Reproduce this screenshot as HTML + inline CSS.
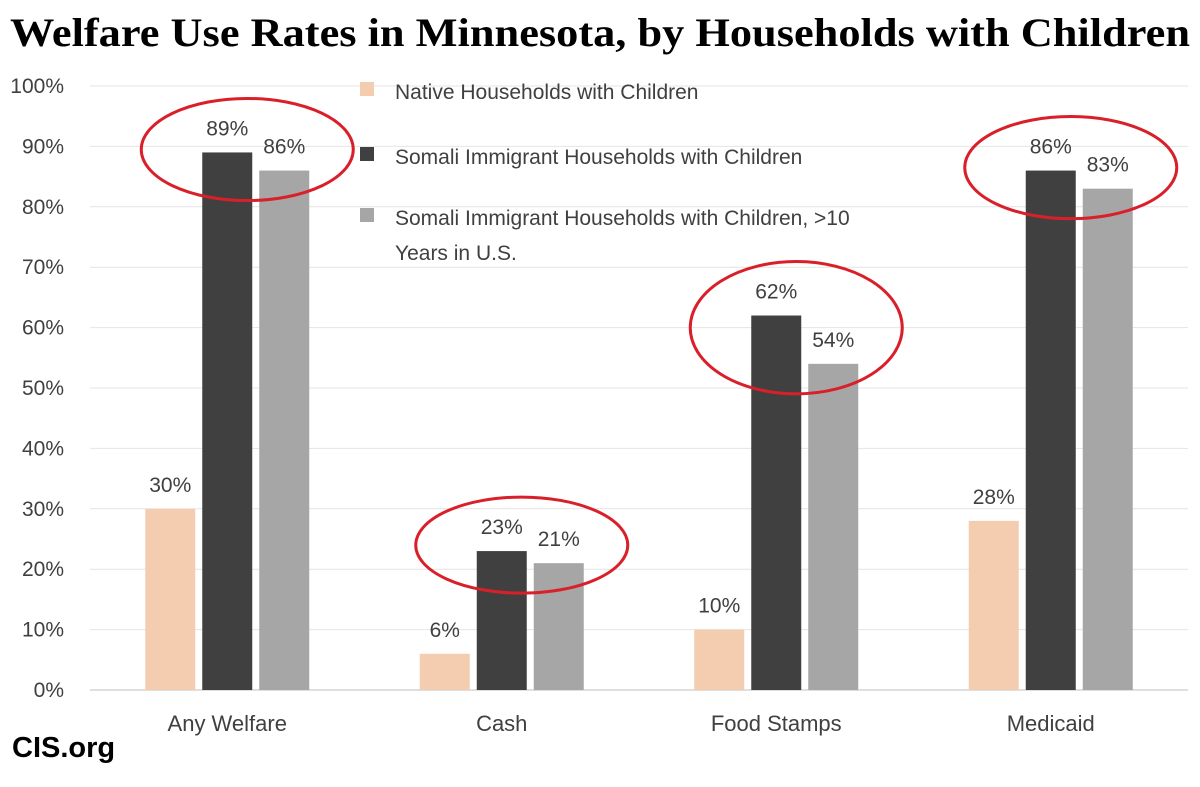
<!DOCTYPE html>
<html><head><meta charset="utf-8">
<style>
body{margin:0;background:#fff;width:1200px;height:782px;overflow:hidden;font-family:"Liberation Sans",sans-serif}
</style></head>
<body>
<svg id="chart" width="1200" height="782" xmlns="http://www.w3.org/2000/svg">
<text x="600" y="46" text-anchor="middle" font-family="Liberation Serif, serif" font-weight="bold" font-size="33" textLength="1180" lengthAdjust="spacingAndGlyphs" fill="#000" style="font-size:40px">Welfare Use Rates in Minnesota, by Households with Children</text>
<g id="grid"></g><g id="bars"></g><g id="labels"></g><g id="ann"></g>
<g font-size="21" fill="#404040">
<rect x="360" y="82" width="14" height="14" fill="#f4cdb0"/>
<text x="395" y="99" fill="#404040">Native Households with Children</text>
<rect x="360" y="147" width="14" height="14" fill="#404040"/>
<text x="395" y="164" fill="#404040">Somali Immigrant Households with Children</text>
<rect x="360" y="208" width="14" height="14" fill="#a6a6a6"/>
<text x="395" y="225" fill="#404040">Somali Immigrant Households with Children, &gt;10</text>
<text x="395" y="260" fill="#404040">Years in U.S.</text>
</g>
<text x="12" y="757" font-size="29" font-weight="bold" fill="#000">CIS.org</text>
</svg>
<script>
const categories=["Any Welfare","Cash","Food Stamps","Medicaid"];
const nativeVals=[30,6,10,28];
const somaliVals=[89,23,62,86];
const somali10Vals=[86,21,54,83];
const yTicks=[0,10,20,30,40,50,60,70,80,90,100];
const highlight=[true,true,true,true];
const NS="http://www.w3.org/2000/svg";
const x0=90,x1=1188,y0=690,y100=86;
const gw=(x1-x0)/categories.length;
const y=v=>y0-(y0-y100)*v/100;
const xc=i=>x0+gw*(i+0.5);
function mk(t,a,p){const e=document.createElementNS(NS,t);for(const k in a)e.setAttribute(k,a[k]);p.appendChild(e);return e;}
const grid=document.getElementById('grid'),bars=document.getElementById('bars'),labels=document.getElementById('labels'),ann=document.getElementById('ann');
yTicks.forEach(t=>{
 const l=mk('line',{x1:x0,x2:x1,y1:y(t),y2:y(t),stroke:t===0?'#bfbfbf':'#e4e4e4','stroke-width':1},grid);
 
 
 const tx=mk('text',{x:64,y:y(t)+7,'text-anchor':'end','font-size':21,fill:'#404040'},grid);
 tx.textContent=t+'%';
 
 
});
const series=[[nativeVals,'#f4cdb0','native'],[somaliVals,'#404040','somali'],[somali10Vals,'#a6a6a6','somali-10yr']];
const bw=50,gap=7;
categories.forEach((c,i)=>{
 series.forEach((s,j)=>{
  const bx=xc(i)+(j-1)*(bw+gap)-bw/2;
  const v=s[0][i];
  const r=mk('rect',{x:bx,y:y(v),width:bw,height:y0-y(v),fill:s[1]},bars);
  
  
  const t=mk('text',{x:bx+bw/2,y:y(v)-17,'text-anchor':'middle','font-size':21,fill:'#404040'},labels);
  t.textContent=v+'%';
  
  
 });
 const ct=mk('text',{x:xc(i),y:731,'text-anchor':'middle','font-size':22,fill:'#404040'},labels);
 ct.textContent=c;
 
 
 if(highlight[i]){
  const top=Math.max(somaliVals[i],somali10Vals[i]),low=Math.min(somaliVals[i],somali10Vals[i]);
  const cy=(y(top)+y(low))/2-12;
  const ry=Math.max(42,(y(low)-y(top))/2+42);
  const e=mk('ellipse',{cx:xc(i)+20,cy:cy,rx:106,ry:ry,fill:'none',stroke:'#d9202a','stroke-width':3},ann);
  
  
 }
});
</script>
</body></html>
